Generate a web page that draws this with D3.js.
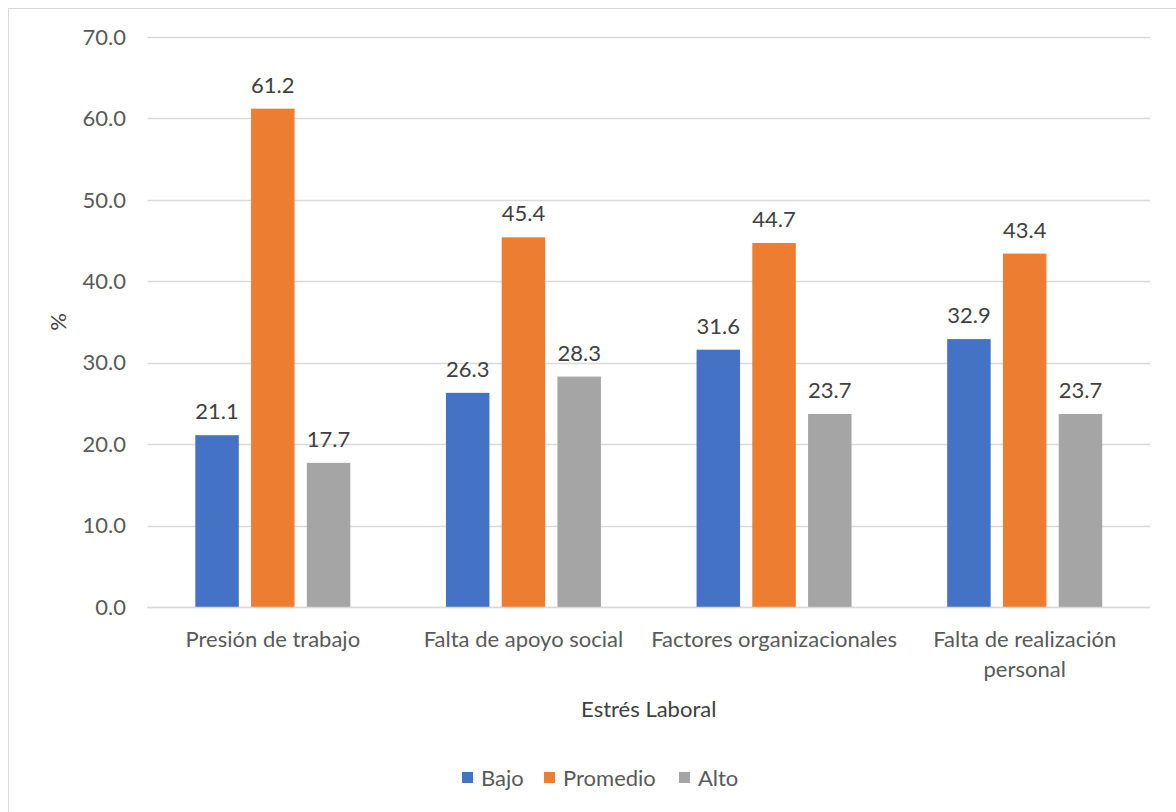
<!DOCTYPE html>
<html><head><meta charset="utf-8">
<script src="https://cdn.jsdelivr.net/npm/d3@7"></script>
<style>body{margin:0;background:#fff;} svg{display:block;font-family:Lato, "Liberation Sans", sans-serif;}</style>
</head><body>
<svg id="c" width="1176" height="812"></svg>
<script>
const categories = [["Presión de trabajo"],["Falta de apoyo social"],["Factores organizacionales"],["Falta de realización","personal"]];
const series = ["Bajo","Promedio","Alto"];
const colors = ["#4472C4","#ED7D31","#A5A5A5"];
const bajo = [21.1,26.3,31.6,32.9];
const promedio = [61.2,45.4,44.7,43.4];
const alto = [17.7,28.3,23.7,23.7];
const yTicks = [0,10,20,30,40,50,60,70];
const values = [bajo,promedio,alto];

(function(){
const svg = d3.select("#c");
svg.append("rect").attr("x",8.5).attr("y",8.5).attr("width",1180).attr("height",820)
  .attr("fill","#fff").attr("stroke","#d9d9d9").attr("stroke-width",1);

const pl=147.5,pr=1150,pt=37,pb=607;
const x0 = d3.scaleBand().domain(d3.range(4)).range([pl,pr]).padding(0);
const inner = 155;
const x1 = d3.scaleBand().domain(d3.range(3)).range([0,inner]).paddingInner(0.22);
const y = d3.scaleLinear().domain([0,70]).range([pb,pt]);

const fs = 22;
svg.append("g").selectAll("line").data(yTicks).join("line")
  .attr("x1",pl).attr("x2",pr).attr("y1",d=>Math.round(y(d))+0.5).attr("y2",d=>Math.round(y(d))+0.5)
  .attr("stroke","#d9d9d9").attr("stroke-width",1.5);
svg.append("g").selectAll("text").data(yTicks).join("text")
  .attr("x",126).attr("y",d=>y(d)).attr("dy","0.35em").attr("text-anchor","end")
  .attr("font-size",fs).attr("fill","#595959").text(d=>d.toFixed(1));

const g = svg.append("g");
categories.forEach((c,i)=>{
  const gx = x0(i) + (x0.bandwidth()-inner)/2;
  series.forEach((s,j)=>{
    const v = values[j][i];
    g.append("rect").attr("x",gx+x1(j)).attr("width",x1.bandwidth())
      .attr("y",y(v)).attr("height",y(0)-y(v)).attr("fill",colors[j]);
    g.append("text").attr("x",gx+x1(j)+x1.bandwidth()/2).attr("y",y(v)-16)
      .attr("text-anchor","middle").attr("font-size",fs).attr("fill","#404040").text(v.toFixed(1));
  });
  const t = svg.append("text").attr("x",x0(i)+x0.bandwidth()/2).attr("y",647)
    .attr("text-anchor","middle").attr("font-size",fs).attr("fill","#595959");
  c.forEach((line,k)=>t.append("tspan").attr("x",x0(i)+x0.bandwidth()/2).attr("dy",k?30:0).text(line));
});
svg.append("line").attr("x1",pl).attr("x2",pr).attr("y1",Math.round(y(0))+0.5).attr("y2",Math.round(y(0))+0.5)
  .attr("stroke","#d9d9d9").attr("stroke-width",1.5);

svg.append("text").attr("x",(pl+pr)/2).attr("y",717).attr("text-anchor","middle")
  .attr("font-size",fs).attr("fill","#404040").text("Estrés Laboral");
svg.append("text").attr("transform","translate(66,322) rotate(-90)").attr("text-anchor","middle")
  .attr("font-size",fs).attr("fill","#404040").text("%");

const legX = [462,544,679];
series.forEach((s,j)=>{
  svg.append("rect").attr("x",legX[j]).attr("y",772).attr("width",11).attr("height",11).attr("fill",colors[j]);
  svg.append("text").attr("x",legX[j]+19).attr("y",778).attr("dy","0.35em").attr("font-size",fs)
    .attr("fill","#595959").text(s);
});
})();
</script>
</body></html>
